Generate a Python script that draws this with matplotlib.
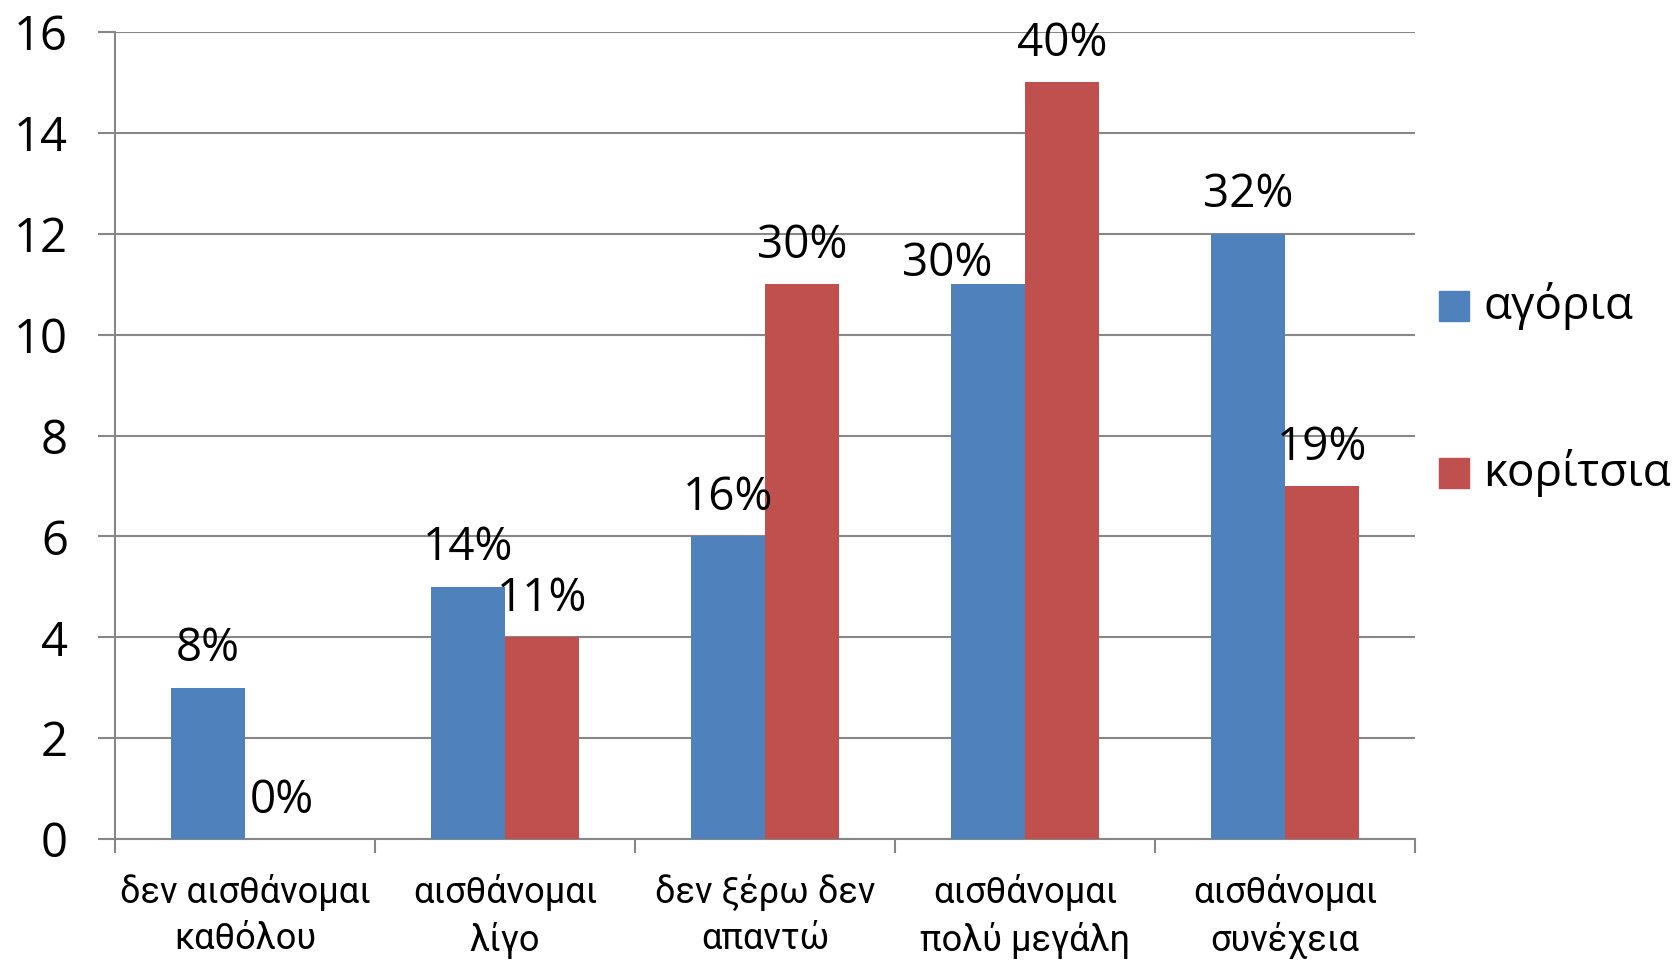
import matplotlib
matplotlib.use("Agg")
import matplotlib.pyplot as plt
from matplotlib.patches import Rectangle
import numpy as np

categories = ["δεν αισθάνομαι\nκαθόλου", "αισθάνομαι\nλίγο", "δεν ξέρω δεν\nαπαντώ",
              "αισθάνομαι\nπολύ μεγάλη", "αισθάνομαι\nσυνέχεια"]
series_names = ["αγόρια", "κορίτσια"]
boys = [3, 5, 6, 11, 12]
girls = [0, 4, 11, 15, 7]
boys_labels = ["8%", "14%", "16%", "30%", "32%"]
girls_labels = ["0%", "11%", "30%", "40%", "19%"]
yticks = [0, 2, 4, 6, 8, 10, 12, 14, 16]

colors = ["#4F81BD", "#C0504D"]
grid_col = "#878787"
main_font = ["Open Sans", "DejaVu Sans"]
narrow_font = ["Roboto", "DejaVu Sans"]

fig = plt.figure(figsize=(16.73, 9.6), dpi=100)
ax = fig.add_axes([115/1673, 1-839/960, 1300/1673, 807/960])

x = np.arange(len(categories))
w = 1/3.5
# label nudges (series index, category index) -> offset in points, as placed in the original
nudges = {(0, 3): (-29, -13)}
for si, (vals, labs, col, off) in enumerate([(boys, boys_labels, colors[0], -w/2),
                                             (girls, girls_labels, colors[1], w/2)]):
    bars = ax.bar(x + off, vals, width=w, color=col, zorder=3, linewidth=0)
    for ci, (b, v, lab) in enumerate(zip(bars, vals, labs)):
        dx, dy = nudges.get((si, ci), (0, 0))
        ax.annotate(lab, (b.get_x() + b.get_width()/2, v), xytext=(dx, 19 + dy),
                    textcoords="offset points", ha="center", va="baseline",
                    fontsize=33, family=main_font, color="black", zorder=4)

ax.set_xlim(-0.5, len(categories) - 0.5)
ax.set_ylim(0, 16)
ax.set_yticks(yticks)
ax.set_yticklabels([str(t) for t in yticks], family=main_font, fontsize=34)
ax.yaxis.grid(True, color=grid_col, linewidth=1.5, zorder=0)
ax.tick_params(axis="y", length=12, width=1.5, color=grid_col, pad=22)

ax.set_xticks(np.arange(len(categories) + 1) - 0.5)
ax.set_xticklabels([])
ax.tick_params(axis="x", which="major", length=10, width=1.5, color=grid_col)
ax.set_xticks(x, minor=True)
ax.set_xticklabels(categories, minor=True, family=narrow_font, fontsize=26, linespacing=1.38)
ax.tick_params(axis="x", which="minor", length=0, pad=25)

for s in ["top", "right"]:
    ax.spines[s].set_visible(False)
for s in ["left", "bottom"]:
    ax.spines[s].set_color(grid_col)
    ax.spines[s].set_linewidth(1.5)

# legend
leg_y = [306, 473]
for name, col, yc in zip(series_names, colors, leg_y):
    fig.patches.append(Rectangle((1439/1673, 1-(yc+15)/960), 30/1673, 30/960,
                                 transform=fig.transFigure, color=col, figure=fig))
    fig.text(1483/1673, 1-yc/960, name, family=main_font, fontsize=33, va="center", ha="left")

fig.savefig("out.png", dpi=100)
